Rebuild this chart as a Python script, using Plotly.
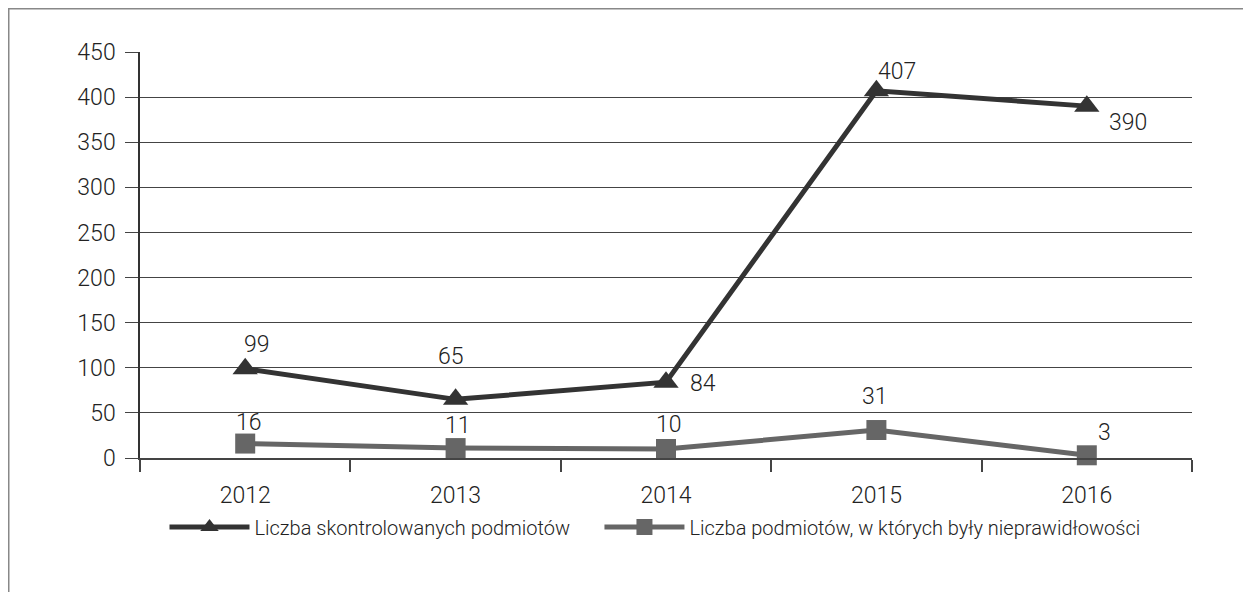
import plotly.graph_objects as go

years = ["2012", "2013", "2014", "2015", "2016"]
kontrolowane = [99, 65, 84, 407, 390]
nieprawidlowosci = [16, 11, 10, 31, 3]
name_k = "Liczba skontrolowanych podmiotów"
name_n = "Liczba podmiotów, w których były nieprawidłowości"
y_ticks = [0, 50, 100, 150, 200, 250, 300, 350, 400, 450]

# label offsets in pixels (style only)
k_dx = [12, -5, 37, 21, 41]
k_dy = [24, 43, -1, 19, -16]
n_dx = [4, 2, 3, -1, 18]
n_dy = [21, 23, 24, 34, 23]

FONT = "Roboto"
WEIGHT = 300
TXT = "#222222"
FS = 23

fig = go.Figure()
fig.add_trace(go.Scatter(
    x=years, y=kontrolowane, name=name_k + "\u00a0" * 5, mode="lines+markers",
    line=dict(color="#333333", width=5),
    marker=dict(symbol="triangle-up", size=22, color="#333333"),
    cliponaxis=False,
))
fig.add_trace(go.Scatter(
    x=years, y=nieprawidlowosci, name=name_n, mode="lines+markers",
    line=dict(color="#666666", width=5),
    marker=dict(symbol="square", size=20, color="#666666"),
    cliponaxis=False,
))

for ys, dxs, dys in [(kontrolowane, k_dx, k_dy), (nieprawidlowosci, n_dx, n_dy)]:
    for i, (y, dx, dy) in enumerate(zip(ys, dxs, dys)):
        fig.add_annotation(x=i, y=y, xref="x", yref="y", text=str(y), showarrow=False,
                           xshift=dx, yshift=dy, xanchor="center", yanchor="middle",
                           font=dict(family=FONT, size=FS, color=TXT, weight=WEIGHT))

# page body has an 8px margin; compensate
W, H = 1243, 584
L, T = 132, 44
R = W - 1184
B = H - 450
pw, ph = W - L - R, H - T - B

fig.update_layout(
    width=W, height=H,
    margin=dict(l=L, r=R, t=T, b=B),
    paper_bgcolor="white", plot_bgcolor="white",
    font=dict(family=FONT, size=FS, color=TXT, weight=WEIGHT),
    showlegend=True,
    legend=dict(orientation="h", x=(655 - 140) / 1052, xanchor="center",
                y=(0 - 69) / ph, yanchor="middle",
                font=dict(family=FONT, size=20, color=TXT, weight=WEIGHT),
                itemwidth=80, tracegroupgap=0),
    xaxis=dict(
        type="category", range=[-0.5, 4.5], showgrid=False, showline=True,
        linecolor="#444444", linewidth=1.5,
        ticks="outside", tickson="boundaries", ticklen=12, tickcolor="#444444", tickwidth=1.5,
        ticklabelstandoff=16,
        tickfont=dict(family=FONT, size=FS, color=TXT, weight=WEIGHT), zeroline=False,
    ),
    yaxis=dict(
        range=[0, 450], tickvals=y_ticks, showgrid=True, gridcolor="#444444", gridwidth=1,
        showline=True, linecolor="#333333", linewidth=1.5,
        ticks="outside", ticklen=13, tickcolor="#444444", tickwidth=1,
        ticklabelstandoff=5,
        tickfont=dict(family=FONT, size=FS, color=TXT, weight=WEIGHT), zeroline=False,
    ),
    shapes=[dict(
        type="rect", xref="paper", yref="paper",
        x0=(-L + 0.75) / pw, x1=(W + 20 - L) / pw,
        y0=-(H + 20 - T - ph) / ph, y1=(ph + T - 0.75) / ph,
        line=dict(color="#888888", width=1.5), fillcolor="rgba(0,0,0,0)", layer="below",
    )],
)

fig.write_html("out.html")
